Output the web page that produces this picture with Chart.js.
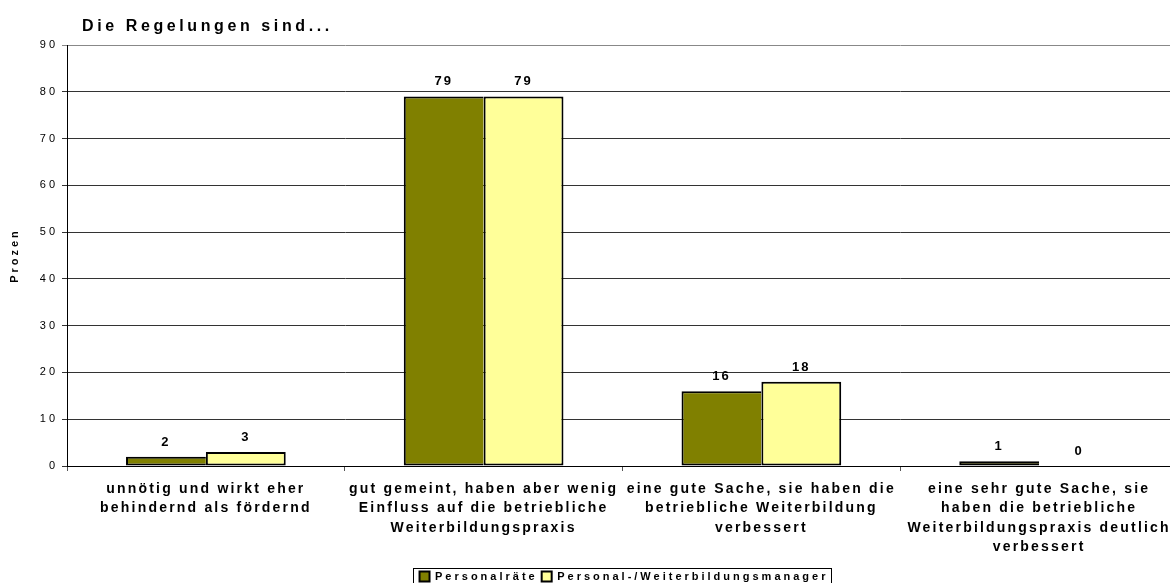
<!DOCTYPE html>
<html>
<head>
<meta charset="utf-8">
<script src="https://cdn.jsdelivr.net/npm/chart.js@4"></script>
<style>
  html, body { margin: 0; padding: 0; background: #fff; overflow: hidden; }
  canvas { display: block; }
</style>
</head>
<body>
<canvas id="myChart" width="1180" height="592"></canvas>
<script>
const ctx = document.querySelector('#myChart').getContext('2d');

const title = 'Die Regelungen sind...';
const yTitle = 'Prozen';

// answers, one entry per category (multi-line)
const labels = [
  ['unnötig und wirkt eher', 'behindernd als fördernd'],
  ['gut gemeint, haben aber wenig', 'Einfluss auf die betriebliche', 'Weiterbildungspraxis'],
  ['eine gute Sache, sie haben die', 'betriebliche Weiterbildung', 'verbessert'],
  ['eine sehr gute Sache, sie', 'haben die betriebliche', 'Weiterbildungspraxis deutlich', 'verbessert']
];

const personalraete = [2, 79, 16, 1];
const manager = [3, 79, 18, 0];

const yTicks = [0, 10, 20, 30, 40, 50, 60, 70, 80, 90];

const fontFamily = "'Liberation Sans', Arial, sans-serif";
Chart.defaults.font.family = fontFamily;
Chart.defaults.color = '#000';

// wide letter spacing for y ticks, axis title and legend
const spacing = {
  id: 'spacing',
  beforeUpdate(chart) { chart.ctx.letterSpacing = '3px'; },
  beforeDraw(chart) { chart.ctx.letterSpacing = '3px'; }
};

// legend sits a bit right of centre
const legendShift = {
  id: 'legendShift',
  afterLayout(chart) {
    chart.legend.left += 35;
    chart.legend.right += 35;
  }
};

// chart heading, top left
const heading = {
  id: 'heading',
  afterDraw(chart) {
    const c = chart.ctx;
    c.save();
    c.letterSpacing = '3.6px';
    c.font = 'bold 16px ' + fontFamily;
    c.fillStyle = '#000';
    c.textAlign = 'left';
    c.textBaseline = 'alphabetic';
    c.fillText(title, 82, 31);
    c.restore();
  }
};

// numbers above the bars; the category labels (ticks z:1) follow with their own spacing
const valueLabels = {
  id: 'valueLabels',
  afterDatasetsDraw(chart) {
    const c = chart.ctx;
    c.save();
    c.letterSpacing = '2px';
    c.font = 'bold 13px ' + fontFamily;
    c.fillStyle = '#000';
    c.textAlign = 'center';
    c.textBaseline = 'alphabetic';
    chart.data.datasets.forEach((ds, i) => {
      chart.getDatasetMeta(i).data.forEach((bar, j) => {
        c.fillText(ds.data[j], bar.x, bar.y - 11);
      });
    });
    c.restore();
    c.letterSpacing = '2.2px';
  }
};

// frame around the legend
const legendFrame = {
  id: 'legendFrame',
  afterDraw(chart) {
    const lg = chart.legend;
    if (!lg || !lg.lineWidths) return;
    const pad = lg.options.labels.padding;
    const w = lg.lineWidths[0];
    const start = (lg.left + pad + lg.right - w) / 2;
    const top = lg.top + pad;
    const c = chart.ctx;
    c.save();
    c.strokeStyle = '#000';
    c.lineWidth = 1;
    c.strokeRect(Math.round(start) - 6.5, Math.round(top) - 2.5, Math.round(w - pad) + 9, 15);
    c.restore();
  }
};

const data = {
  labels,
  datasets: [
    {
      label: 'Personalräte',
      data: personalraete,
      backgroundColor: '#808000',
      borderColor: '#000',
      borderWidth: 2,
      borderSkipped: 'right'
    },
    {
      label: 'Personal-/Weiterbildungsmanager',
      data: manager,
      backgroundColor: '#FFFF99',
      borderColor: '#000',
      borderWidth: 2,
      borderSkipped: false
    }
  ]
};

const config = {
  type: 'bar',
  data: data,
  plugins: [spacing, legendShift, heading, valueLabels, legendFrame],
  options: {
    responsive: false,
    animation: false,
    devicePixelRatio: 1,
    categoryPercentage: 0.575,
    barPercentage: 1,
    layout: { padding: { top: 45, right: 2, left: 0, bottom: 0 } },
    plugins: {
      legend: {
        position: 'bottom',
        labels: {
          boxWidth: 10,
          boxHeight: 10,
          padding: 4,
          color: '#000',
          font: { size: 11, weight: 'bold' }
        }
      },
      tooltip: { enabled: false }
    },
    scales: {
      x: {
        grid: {
          drawOnChartArea: false,
          drawTicks: true,
          tickLength: 5,
          color: '#555'
        },
        border: { color: '#000', width: 1 },
        ticks: {
          z: 1,
          color: '#000',
          maxRotation: 0,
          autoSkip: false,
          padding: 8,
          font: { size: 14, weight: 'bold', lineHeight: 1.393 }
        },
        afterFit(scale) {
          scale.height = 101;
          scale.paddingLeft = 0;
          scale.paddingRight = 0;
        }
      },
      y: {
        min: 0,
        max: 90,
        afterBuildTicks(scale) { scale.ticks = yTicks.map(v => ({ value: v })); },
        grid: {
          color: c => (c.tick && c.tick.value === 90 ? '#888' : '#333'),
          tickLength: 5,
          lineWidth: 1
        },
        border: { color: '#000', width: 1 },
        ticks: {
          color: '#000',
          padding: 4,
          font: { size: 11 }
        },
        title: {
          display: true,
          text: yTitle,
          color: '#000',
          font: { size: 11, weight: 'bold' },
          padding: { top: 8, bottom: 0 }
        },
        afterFit(scale) { scale.width = 67; }
      }
    }
  }
};

const myChart = new Chart(ctx, config);
</script>
</body>
</html>
